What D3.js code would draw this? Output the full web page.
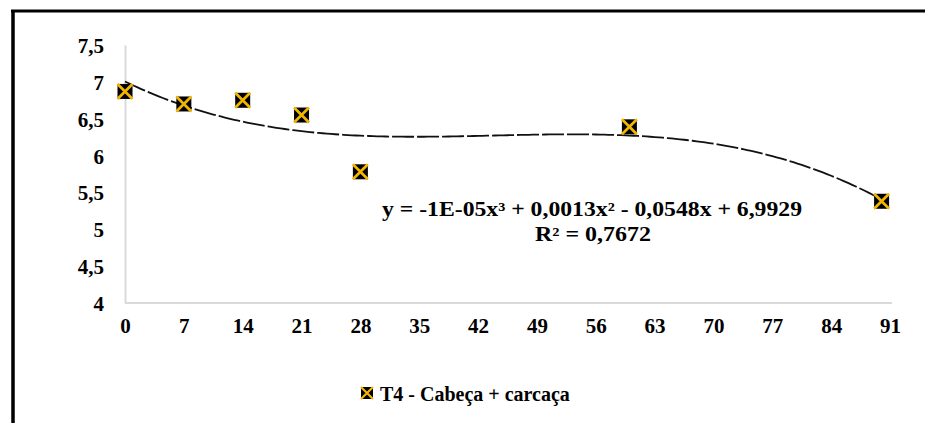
<!DOCTYPE html>
<html>
<head>
<meta charset="utf-8">
<script src="https://cdn.jsdelivr.net/npm/d3@7"></script>
<style>
  html, body { margin: 0; padding: 0; background: #fff; }
  svg text { font-family: "Liberation Serif", "Times New Roman", serif; font-weight: bold; fill: #000; }
</style>
</head>
<body>
<svg id="chart" width="925" height="423"></svg>
<script>
// Storage day and measured value for each sample
const days = [0, 7, 14, 21, 28, 60, 90];
const values = [6.87, 6.70, 6.75, 6.55, 5.78, 6.39, 5.38];
const xTicks = [0, 7, 14, 21, 28, 35, 42, 49, 56, 63, 70, 77, 84, 91];
const yTicks = [4, 4.5, 5, 5.5, 6, 6.5, 7, 7.5];
const seriesName = "T4 - Cabeça + carcaça";
const equationText = "y = -1E-05x³ + 0,0013x² - 0,0548x + 6,9929";
const r2Text = "R² = 0,7672";

const svg = d3.select("#chart");
const fmt = v => String(v).replace(".", ",");

const x = d3.scaleLinear().domain([0, 91]).range([125, 890]);
const y = d3.scaleLinear().domain([4, 7.5]).range([303, 45]);

// Frame: heavy rule along the top and left edge
svg.append("line").attr("x1", 11).attr("x2", 925).attr("y1", 11).attr("y2", 11)
  .attr("stroke", "#000").attr("stroke-width", 3);
svg.append("line").attr("x1", 13).attr("x2", 13).attr("y1", 10).attr("y2", 423)
  .attr("stroke", "#000").attr("stroke-width", 3.5);

// Axes
const yAxis = d3.axisLeft(y).tickValues(yTicks).tickSize(0).tickPadding(21).tickFormat(fmt);
const gy = svg.append("g").attr("transform", `translate(${x(0)},0)`).call(yAxis);
gy.select(".domain").attr("stroke", "#d9d9d9").attr("stroke-width", 2);
gy.selectAll("text").style("font-size", "21px").attr("dy", "0.36em");

const xAxis = d3.axisBottom(x).tickValues(xTicks).tickSize(0).tickPadding(15).tickFormat(fmt);
const gx = svg.append("g").attr("transform", `translate(0,${y(4)})`).call(xAxis);
gx.select(".domain").attr("stroke", "#d9d9d9").attr("stroke-width", 2).attr("d", `M${x(0)},0H${x(91) + 2}`);
gx.selectAll("text").style("font-size", "21px").attr("dy", "0.71em");

// Cubic least-squares trend line through the samples
function polyFit(xs, ys, deg) {
  const n = deg + 1;
  const A = Array.from({ length: n }, () => new Array(n + 1).fill(0));
  for (let k = 0; k < xs.length; k++) {
    for (let i = 0; i < n; i++) {
      for (let j = 0; j < n; j++) A[i][j] += Math.pow(xs[k], i + j);
      A[i][n] += ys[k] * Math.pow(xs[k], i);
    }
  }
  for (let c = 0; c < n; c++) {
    let p = c;
    for (let r = c + 1; r < n; r++) if (Math.abs(A[r][c]) > Math.abs(A[p][c])) p = r;
    [A[c], A[p]] = [A[p], A[c]];
    for (let r = 0; r < n; r++) {
      if (r === c) continue;
      const f = A[r][c] / A[c][c];
      for (let j = c; j <= n; j++) A[r][j] -= f * A[c][j];
    }
  }
  return A.map((row, i) => row[n] / row[i]);
}
const coef = polyFit(days, values, 3);
const trend = xv => coef.reduce((s, c, i) => s + c * Math.pow(xv, i), 0);
const trendPts = d3.range(0, 90.01, 0.5).map(d => [d, trend(d)]);
svg.append("path")
  .datum(trendPts)
  .attr("fill", "none")
  .attr("stroke", "#111")
  .attr("stroke-width", 1.8)
  .attr("stroke-dasharray", "22,3")
  .attr("d", d3.line().x(d => x(d[0])).y(d => y(d[1])));

// Marker: black square with a gold cross
function marker(g, size) {
  const h = size / 2;
  g.append("rect").attr("x", -h).attr("y", -h).attr("width", size).attr("height", size).attr("fill", "#000");
  g.append("path")
    .attr("d", `M${-h},${-h}L${h},${h}M${h},${-h}L${-h},${h}`)
    .attr("stroke", "#f2b600").attr("stroke-width", size * 0.18).attr("fill", "none");
}
days.forEach((d, i) => {
  const g = svg.append("g").attr("transform", `translate(${x(d)},${y(values[i])})`);
  marker(g, 15);
});

// Trend equation and coefficient of determination
svg.append("text").attr("x", 592).attr("y", 216).attr("text-anchor", "middle")
  .style("font-size", "20px").attr("textLength", 420).attr("lengthAdjust", "spacingAndGlyphs")
  .text(equationText);
svg.append("text").attr("x", 593).attr("y", 241).attr("text-anchor", "middle")
  .style("font-size", "20px").attr("textLength", 116).attr("lengthAdjust", "spacingAndGlyphs")
  .text(r2Text);

// Legend
const lg = svg.append("g").attr("transform", "translate(367,393)");
marker(lg, 12);
svg.append("text").attr("x", 380).attr("y", 401).style("font-size", "20px").text(seriesName);
</script>
</body>
</html>
